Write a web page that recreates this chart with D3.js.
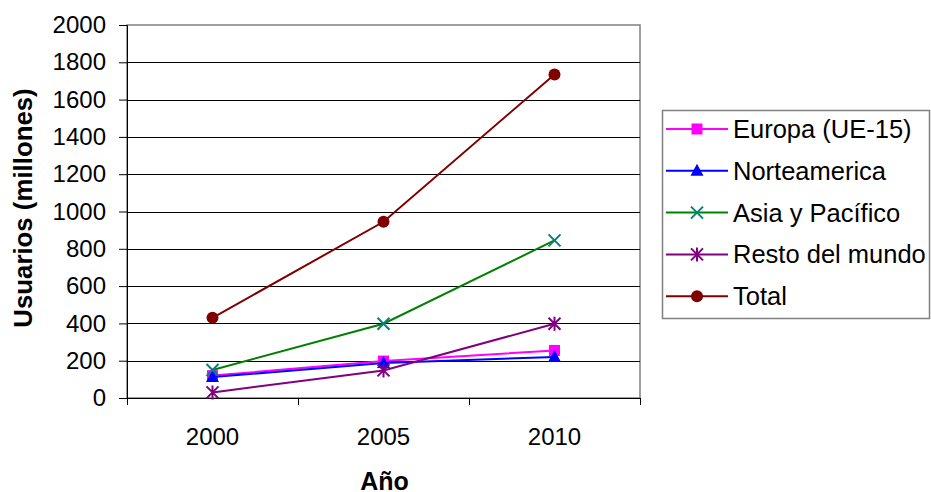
<!DOCTYPE html>
<html>
<head>
<meta charset="utf-8">
<script src="https://cdn.jsdelivr.net/npm/d3@7"></script>
<style>
  body { margin: 0; background: #fff; }
  svg text { font-family: "Liberation Sans", Arial, sans-serif; fill: #000; }
</style>
</head>
<body>
<script>
const years = ["2000", "2005", "2010"];
const seriesNames = ["Europa (UE-15)", "Norteamerica", "Asia y Pacífico", "Resto del mundo", "Total"];
const europa = [120, 198, 255];
const norteamerica = [112, 188, 220];
const asia = [150, 398, 845];
const resto = [30, 148, 398];
const total = [430, 945, 1735];
const yTicks = [0, 200, 400, 600, 800, 1000, 1200, 1400, 1600, 1800, 2000];

const width = 931, height = 492;
const margin = { left: 127, right: 291, top: 25, bottom: 94 };
const innerWidth = width - margin.left - margin.right;
const innerHeight = height - margin.top - margin.bottom;

const series = [
    { name: seriesNames[0], values: europa, line: "#ff00ff", mark: "#ff00ff", shape: "square" },
    { name: seriesNames[1], values: norteamerica, line: "#0000ff", mark: "#0000ff", shape: "triangle" },
    { name: seriesNames[2], values: asia, line: "#008000", mark: "#008080", shape: "x" },
    { name: seriesNames[3], values: resto, line: "#800080", mark: "#800080", shape: "star" },
    { name: seriesNames[4], values: total, line: "#800000", mark: "#800000", shape: "circle" }
];

const svg = d3.select("body").append("svg")
              .attr("width", width)
              .attr("height", height);

const g = svg.append("g")
             .attr("transform", `translate(${margin.left},${margin.top})`);

const x = d3.scaleBand()
            .domain(years)
            .range([0, innerWidth]);

const y = d3.scaleLinear()
            .domain([0, 2000])
            .range([innerHeight, 0]);

// plot frame (grey top/right)
g.append("rect")
 .attr("width", innerWidth)
 .attr("height", innerHeight)
 .attr("fill", "none")
 .attr("stroke", "#808080")
 .attr("stroke-width", 1.5);

// gridlines
g.selectAll("line.grid")
 .data(yTicks.filter(d => d > 0 && d < 2000))
 .enter().append("line")
 .attr("class", "grid")
 .attr("x1", 0)
 .attr("x2", innerWidth)
 .attr("y1", d => Math.round(y(d)) + 0.5)
 .attr("y2", d => Math.round(y(d)) + 0.5)
 .attr("stroke", "#000")
 .attr("stroke-width", 1);

// y axis
const yAxis = g.append("g")
               .call(d3.axisLeft(y).tickValues(yTicks).tickFormat(d3.format("d")).tickSize(8).tickPadding(13));
yAxis.select(".domain").attr("stroke", "#000");
yAxis.selectAll("text")
     .style("font-size", "24px");

// x axis
const xAxis = g.append("g")
               .attr("transform", `translate(0,${innerHeight})`)
               .call(d3.axisBottom(x).tickSize(0).tickPadding(30));
xAxis.select(".domain").attr("stroke", "#000");
xAxis.selectAll("text")
     .style("font-size", "24px");

// x boundary ticks
g.selectAll("line.xtick")
 .data(years.concat(["end"]))
 .enter().append("line")
 .attr("class", "xtick")
 .attr("x1", (d, i) => i * x.bandwidth() + 0.5)
 .attr("x2", (d, i) => i * x.bandwidth() + 0.5)
 .attr("y1", innerHeight)
 .attr("y2", innerHeight + 7)
 .attr("stroke", "#000");

// axis titles
svg.append("text")
   .attr("x", margin.left + x("2005") + x.bandwidth() / 2 + 1)
   .attr("y", 490)
   .attr("text-anchor", "middle")
   .style("font-size", "25px")
   .style("font-weight", "bold")
   .text("Año");

svg.append("text")
   .attr("transform", `translate(32, 208) rotate(-90)`)
   .attr("text-anchor", "middle")
   .style("font-size", "25.8px")
   .style("font-weight", "bold")
   .text("Usuarios (millones)");

const drawMarker = (sel, s) => {
    if (s.shape === "square") {
        sel.append("rect").attr("x", -5.5).attr("y", -5.5).attr("width", 11).attr("height", 11).attr("fill", s.mark);
    } else if (s.shape === "triangle") {
        sel.append("path").attr("d", "M0,-7L6.5,5L-6.5,5Z").attr("fill", s.mark);
    } else if (s.shape === "x") {
        sel.append("path").attr("d", "M-6,-6L6,6M-6,6L6,-6").attr("stroke", s.mark).attr("stroke-width", 2);
    } else if (s.shape === "star") {
        sel.append("path").attr("d", "M-6,-6L6,6M-6,6L6,-6M0,-7L0,7").attr("stroke", s.mark).attr("stroke-width", 2);
    } else {
        sel.append("circle").attr("r", 6).attr("fill", s.mark);
    }
};

const line = d3.line()
               .x((d, i) => x(years[i]) + x.bandwidth() / 2)
               .y(d => y(d));

series.forEach(s => {
    g.append("path")
     .attr("d", line(s.values))
     .attr("fill", "none")
     .attr("stroke", s.line)
     .attr("stroke-width", 2);

    s.values.forEach((v, i) => {
        const m = g.append("g")
                   .attr("transform", `translate(${x(years[i]) + x.bandwidth() / 2},${y(v)})`);
        drawMarker(m, s);
    });
});

// legend
const legend = svg.append("g")
                  .attr("transform", "translate(662, 110)");

legend.append("rect")
      .attr("x", 0.5)
      .attr("y", 0.5)
      .attr("width", 267)
      .attr("height", 208)
      .attr("fill", "#fff")
      .attr("stroke", "#808080")
      .attr("stroke-width", 1.5);

series.forEach((s, i) => {
    const yPos = 19 + i * 41.8;
    legend.append("line")
          .attr("x1", 4)
          .attr("x2", 66)
          .attr("y1", yPos)
          .attr("y2", yPos)
          .attr("stroke", s.line)
          .attr("stroke-width", 2);
    const m = legend.append("g").attr("transform", `translate(35,${yPos})`);
    drawMarker(m, s);
    legend.append("text")
          .attr("x", 71)
          .attr("y", yPos + 9)
          .style("font-size", "25.5px")
          .text(s.name);
});
</script>
</body>
</html>
